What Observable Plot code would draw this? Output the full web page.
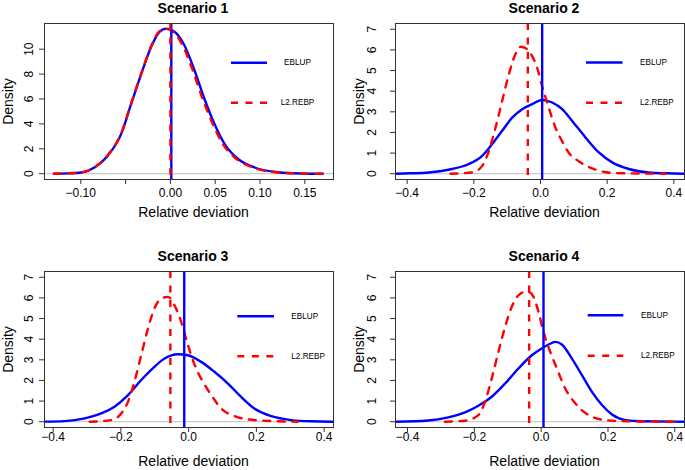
<!DOCTYPE html>
<html><head><meta charset="utf-8">
<script src="https://cdn.jsdelivr.net/npm/d3@7"></script>
<script src="https://cdn.jsdelivr.net/npm/@observablehq/plot@0.6"></script>
<style>
body{margin:0;background:#fff;}
#wrap{position:relative;width:685px;height:470px;overflow:hidden;font-family:"Liberation Sans",Arial,sans-serif;background:#fff;}
#wrap svg{position:absolute;}
</style></head><body><div id="wrap"></div>
<script>
// ---- data ----
const titles = ["Scenario 1", "Scenario 2", "Scenario 3", "Scenario 4"];
const seriesNames = ["EBLUP", "L2.REBP"];
const xAxisLabel = "Relative deviation";
const yAxisLabel = "Density";

const s1Eblup = [[-0.130,0],[-0.115,0.03],[-0.0996,0.1],[-0.0847,0.5],[-0.0699,1.45],[-0.0549,3.2],[-0.0438,5.6],[-0.0326,8.0],[-0.0214,10.2],[-0.0122,11.4],[-0.0047,11.65],[0.0046,11.4],[0.0157,10.3],[0.0269,8.3],[0.038,6.0],[0.0492,4.0],[0.0604,2.4],[0.0752,1.2],[0.0939,0.5],[0.12,0.12],[0.145,0.02],[0.170,0]];
const s1Rebp = [[-0.130,0],[-0.115,0.03],[-0.0996,0.1],[-0.0847,0.52],[-0.0699,1.5],[-0.0549,3.25],[-0.0438,5.65],[-0.0326,8.05],[-0.0214,10.25],[-0.0122,11.45],[-0.005,11.62],[0.003,11.4],[0.0137,10.3],[0.0249,8.3],[0.036,6.0],[0.0472,4.0],[0.0584,2.4],[0.0735,1.2],[0.092,0.5],[0.118,0.12],[0.145,0.02],[0.170,0]];

const s2Eblup = [[-0.44,0],[-0.39,0.02],[-0.335,0.06],[-0.265,0.23],[-0.215,0.47],[-0.175,0.87],[-0.145,1.44],[-0.115,2.08],[-0.085,2.72],[-0.055,3.13],[-0.025,3.37],[0.005,3.58],[0.035,3.45],[0.065,3.13],[0.095,2.56],[0.135,1.76],[0.175,1.03],[0.215,0.55],[0.265,0.23],[0.325,0.06],[0.38,0.02],[0.44,0]];
const s2Rebp = [[-0.27,0],[-0.205,0.06],[-0.175,0.38],[-0.155,1.1],[-0.135,2.23],[-0.115,3.53],[-0.095,4.82],[-0.075,5.8],[-0.06,6.15],[-0.04,6.04],[-0.025,5.7],[-0.01,5.13],[0.005,4.24],[0.025,3.19],[0.045,2.23],[0.065,1.57],[0.085,1.01],[0.115,0.6],[0.165,0.2],[0.225,0.03],[0.375,0]];

const s3Eblup = [[-0.44,0],[-0.366,0.03],[-0.307,0.16],[-0.258,0.4],[-0.219,0.73],[-0.179,1.29],[-0.140,2.02],[-0.101,2.66],[-0.071,3.06],[-0.032,3.27],[-0.002,3.22],[0.037,2.9],[0.076,2.42],[0.116,1.85],[0.155,1.2],[0.194,0.64],[0.244,0.27],[0.303,0.08],[0.362,0.02],[0.44,0]];
const s3Rebp = [[-0.292,0],[-0.228,0.08],[-0.199,0.4],[-0.179,0.97],[-0.160,1.94],[-0.140,3.23],[-0.120,4.52],[-0.101,5.49],[-0.081,5.97],[-0.061,6.05],[-0.042,5.65],[-0.022,4.84],[-0.002,3.71],[0.018,2.74],[0.042,1.94],[0.067,1.29],[0.096,0.64],[0.136,0.27],[0.194,0.08],[0.322,0]];

const s4Eblup = [[-0.44,0],[-0.338,0.06],[-0.278,0.21],[-0.228,0.45],[-0.188,0.77],[-0.148,1.21],[-0.108,1.85],[-0.068,2.58],[-0.028,3.22],[0.002,3.55],[0.022,3.74],[0.042,3.87],[0.062,3.74],[0.092,3.06],[0.122,2.26],[0.152,1.45],[0.182,0.81],[0.212,0.35],[0.252,0.08],[0.302,0.02],[0.44,0]];
const s4Rebp = [[-0.288,0],[-0.228,0.05],[-0.188,0.32],[-0.168,0.97],[-0.148,2.1],[-0.128,3.39],[-0.108,4.6],[-0.088,5.57],[-0.068,6.13],[-0.048,6.29],[-0.038,6.29],[-0.023,6.05],[-0.008,5.32],[0.007,4.35],[0.027,3.39],[0.047,2.58],[0.072,1.61],[0.102,0.89],[0.142,0.32],[0.192,0.08],[0.262,0.02],[0.402,0]];

// vertical reference lines (mean relative deviation)
const vEblup = [0.001, 0.005, -0.013, 0.007];
const vRebp = [0.000, -0.038, -0.054, -0.036];

// ticks
const xTicks1 = [-0.10, -0.05, 0, 0.05, 0.10, 0.15];
const xTickLabels1 = ["\u22120.10", "", "0.00", "0.05", "0.10", "0.15"];
const yTicks1 = [0, 2, 4, 6, 8, 10];
const xTicks = [-0.4, -0.2, 0, 0.2, 0.4];
const xTickLabels = ["\u22120.4", "\u22120.2", "0.0", "0.2", "0.4"];
const yTicks = [0, 1, 2, 3, 4, 5, 6, 7];

// ---- layout ----
const BLUE = "#0000ff", RED = "#ff0000", DASH = "7,7.5", LW = 2.4;
const FONT = "Liberation Sans, Arial, Helvetica, sans-serif";

const panels = [
  {left: 0, top: 0, width: 342, height: 235, m: [44, 9, 23, 56], xDomain: [-0.1405, 0.182], yDomain: [-0.464, 12.064],
   xT: xTicks1, xTL: xTickLabels1, yT: yTicks1, eb: s1Eblup, rb: s1Rebp, xtDy: 14, xlDy: 33, ytDx: -15,
   leg: {x1: 231, x2: 267, yb: 62.7, yr: 102.7, tx: 297.5, anchor: "middle"}},
  {left: 342, top: 0, width: 343, height: 235, m: [53, 1, 23, 56], xDomain: [-0.435, 0.432], yDomain: [-0.28, 7.28],
   xT: xTicks, xTL: xTickLabels, yT: yTicks, eb: s2Eblup, rb: s2Rebp, xtDy: 14, xlDy: 33, ytDx: -23,
   leg: {x1: 244, x2: 280.5, yb: 62.5, yr: 102.7, tx: 298, anchor: "start"}},
  {left: 0, top: 235, width: 342, height: 235, m: [44, 9, 36, 43], xDomain: [-0.4256, 0.4277], yDomain: [-0.28, 7.28],
   xT: xTicks, xTL: xTickLabels, yT: yTicks, eb: s3Eblup, rb: s3Rebp, xtDy: 10, xlDy: 34, ytDx: -15,
   leg: {x1: 237.3, x2: 274, yb: 81.3, yr: 121.3, tx: 291.3, anchor: "start"}},
  {left: 342, top: 235, width: 343, height: 235, m: [53, 1, 36, 43], xDomain: [-0.436, 0.429], yDomain: [-0.28, 7.28],
   xT: xTicks, xTL: xTickLabels, yT: yTicks, eb: s4Eblup, rb: s4Rebp, xtDy: 10, xlDy: 34, ytDx: -23,
   leg: {x1: 245.7, x2: 281.3, yb: 80.3, yr: 120.7, tx: 299, anchor: "start"}}
];

const wrap = document.getElementById("wrap");

panels.forEach((p, i) => {
  const fmtX = d => p.xTL[p.xT.indexOf(d)];
  const svg = Plot.plot({
    width: p.width, height: p.height,
    marginLeft: p.m[0], marginRight: p.m[1], marginTop: p.m[2], marginBottom: p.m[3],
    x: {domain: p.xDomain},
    y: {domain: p.yDomain},
    style: {fontFamily: FONT, color: "#000", background: "transparent", overflow: "visible"},
    marks: [
      Plot.ruleY([0], {stroke: "#bebebe", strokeWidth: 1}),
      Plot.line(p.eb, {x: d => d[0], y: d => d[1], stroke: BLUE, strokeWidth: LW, curve: "monotone-x", clip: true}),
      Plot.line(p.rb, {x: d => d[0], y: d => d[1], stroke: RED, strokeWidth: LW, strokeDasharray: DASH, curve: "monotone-x", clip: true}),
      Plot.ruleX([vEblup[i]], {stroke: BLUE, strokeWidth: LW}),
      Plot.ruleX([vRebp[i]], {stroke: RED, strokeWidth: LW, strokeDasharray: DASH}),
      Plot.frame({stroke: "#333", strokeWidth: 1}),
      Plot.axisX({ticks: p.xT, tickSize: 5, tickFormat: () => "", label: null, stroke: "#333"}),
      Plot.text(p.xT, {x: d => d, text: fmtX, frameAnchor: "bottom", dy: p.xtDy, fontSize: 12, textAnchor: "middle", lineAnchor: "middle"}),
      Plot.axisY({ticks: p.yT, tickSize: 5, tickFormat: () => "", label: null, stroke: "#333"}),
      Plot.text(p.yT, {y: d => d, text: d => String(d), frameAnchor: "left", dx: p.ytDx, rotate: -90, fontSize: 12, textAnchor: "middle", lineAnchor: "middle"}),
      Plot.text([titles[i]], {text: d => d, frameAnchor: "top", dy: -14.5, dx: 4, fontSize: 14, fontWeight: "bold", textAnchor: "middle", lineAnchor: "middle"}),
      Plot.text([xAxisLabel], {text: d => d, frameAnchor: "bottom", dy: p.xlDy, dx: 4.5, fontSize: 14, textAnchor: "middle", lineAnchor: "middle"}),
      Plot.text([yAxisLabel], {text: d => d, frameAnchor: "left", dx: -36, rotate: -90, fontSize: 14, textAnchor: "middle", lineAnchor: "middle"})
    ]
  });
  svg.style.left = p.left + "px";
  svg.style.top = p.top + "px";

  // legend
  const L = p.leg;
  const g = d3.select(svg).append("g").attr("font-family", FONT).attr("font-size", 8.2).attr("fill", "#000");
  g.append("line").attr("x1", L.x1).attr("x2", L.x2).attr("y1", L.yb).attr("y2", L.yb)
    .attr("stroke", BLUE).attr("stroke-width", LW);
  g.append("line").attr("x1", L.x1).attr("x2", L.x2).attr("y1", L.yr).attr("y2", L.yr)
    .attr("stroke", RED).attr("stroke-width", LW).attr("stroke-dasharray", DASH);
  g.append("text").attr("x", L.tx).attr("y", L.yb).attr("dy", "0.32em").attr("text-anchor", L.anchor).text(seriesNames[0]);
  g.append("text").attr("x", L.tx).attr("y", L.yr).attr("dy", "0.32em").attr("text-anchor", L.anchor).text(seriesNames[1]);

  wrap.appendChild(svg);
});
</script>
</body></html>
